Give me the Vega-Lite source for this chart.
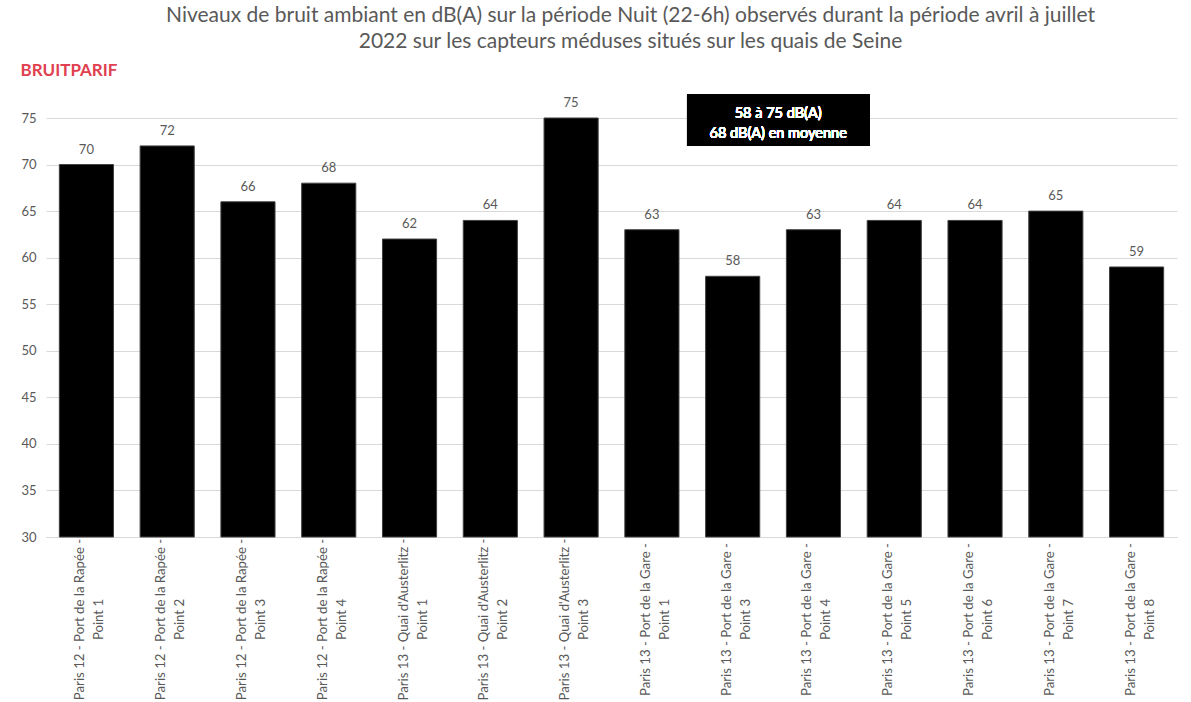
{
  "$schema": "https://vega.github.io/schema/vega-lite/v6.json",
  "autosize": {"type": "none"},
  "width": 1131,
  "height": 419,
  "padding": {"left": 46, "top": 118, "right": 14, "bottom": 165},
  "background": "white",
  "config": {
    "font": "Lato",
    "view": {"stroke": null}
  },
  "title": {
    "text": ["Niveaux de bruit ambiant en dB(A) sur la période Nuit (22-6h) observés durant la période avril à juillet", "2022 sur les capteurs méduses situés sur les quais de Seine"],
    "font": "Lato",
    "fontSize": 21,
    "fontWeight": "normal",
    "color": "#595959",
    "anchor": "middle",
    "dx": 19,
    "offset": 9,
    "lineHeight": 26
  },
  "data": {
    "values": [
      {"site": "Paris 12 - Port de la Rapée - Point 1", "db": 70},
      {"site": "Paris 12 - Port de la Rapée - Point 2", "db": 72},
      {"site": "Paris 12 - Port de la Rapée - Point 3", "db": 66},
      {"site": "Paris 12 - Port de la Rapée - Point 4", "db": 68},
      {"site": "Paris 13 - Quai d'Austerlitz - Point 1", "db": 62},
      {"site": "Paris 13 - Quai d'Austerlitz - Point 2", "db": 64},
      {"site": "Paris 13 - Quai d'Austerlitz - Point 3", "db": 75},
      {"site": "Paris 13 - Port de la Gare - Point 1", "db": 63},
      {"site": "Paris 13 - Port de la Gare - Point 3", "db": 58},
      {"site": "Paris 13 - Port de la Gare - Point 4", "db": 63},
      {"site": "Paris 13 - Port de la Gare - Point 5", "db": 64},
      {"site": "Paris 13 - Port de la Gare - Point 6", "db": 64},
      {"site": "Paris 13 - Port de la Gare - Point 7", "db": 65},
      {"site": "Paris 13 - Port de la Gare - Point 8", "db": 59}
    ]
  },
  "layer": [
    {
      "mark": {"type": "bar", "color": "black", "stroke": "#404040", "strokeWidth": 1},
      "encoding": {
        "x": {
          "field": "site",
          "type": "nominal",
          "sort": null,
          "scale": {"paddingInner": 0.33, "paddingOuter": 0.165},
          "axis": {
            "title": null,
            "labelAngle": -90,
            "labelAlign": "center",
            "labelBaseline": "middle",
            "labelPadding": 82,
            "labelOffset": -6,
            "labelFont": "Lato",
            "labelFontSize": 13.2,
            "labelColor": "#595959",
            "labelLineHeight": 19,
            "labelLimit": 300,
            "labelExpr": "[slice(datum.label, 0, indexof(datum.label, 'Point')), slice(datum.label, indexof(datum.label, 'Point'))]",
            "ticks": false,
            "domainColor": "#d9d9d9",
            "domainWidth": 1,
            "grid": false
          }
        },
        "y": {
          "field": "db",
          "type": "quantitative",
          "scale": {"domain": [30, 75], "nice": false, "zero": false},
          "axis": {
            "title": "BRUITPARIF",
            "titleAngle": 0,
            "titleColor": "#e0404f",
            "titleFont": "Lato",
            "titleFontSize": 17,
            "titleFontWeight": "bold",
            "titleAlign": "left",
            "titleBaseline": "middle",
            "titleX": -26,
            "titleY": -48,
            "values": [30, 35, 40, 45, 50, 55, 60, 65, 70, 75],
            "labelFont": "Lato",
            "labelFontSize": 13,
            "labelColor": "#595959",
            "labelPadding": 10,
            "ticks": false,
            "domain": false,
            "gridColor": "#d9d9d9",
            "gridWidth": 1
          }
        },
        "y2": {"datum": 30}
      }
    },
    {
      "mark": {"type": "text", "baseline": "bottom", "dy": -8, "font": "Lato", "fontSize": 13, "color": "#595959"},
      "encoding": {
        "x": {"field": "site", "type": "nominal", "sort": null},
        "y": {"field": "db", "type": "quantitative"},
        "text": {"field": "db", "type": "quantitative"}
      }
    },
    {
      "mark": {"type": "rect", "color": "black"},
      "encoding": {
        "x": {"datum": "Paris 13 - Port de la Gare - Point 3", "bandPosition": -0.344},
        "x2": {"datum": "Paris 13 - Port de la Gare - Point 5", "bandPosition": 0.05},
        "y": {"datum": 77.5},
        "y2": {"datum": 72.0}
      }
    },
    {
      "mark": {"type": "text", "color": "white", "font": "Lato", "fontSize": 14.5, "fontWeight": "normal", "align": "center", "baseline": "middle", "lineHeight": 20, "lineBreak": "\n", "text": "58 à 75 dB(A)\n68 dB(A) en moyenne"},
      "encoding": {
        "x": {"datum": "Paris 13 - Port de la Gare - Point 3", "bandPosition": 1.34},
        "y": {"datum": 75.4}
      }
    }
  ]
}
